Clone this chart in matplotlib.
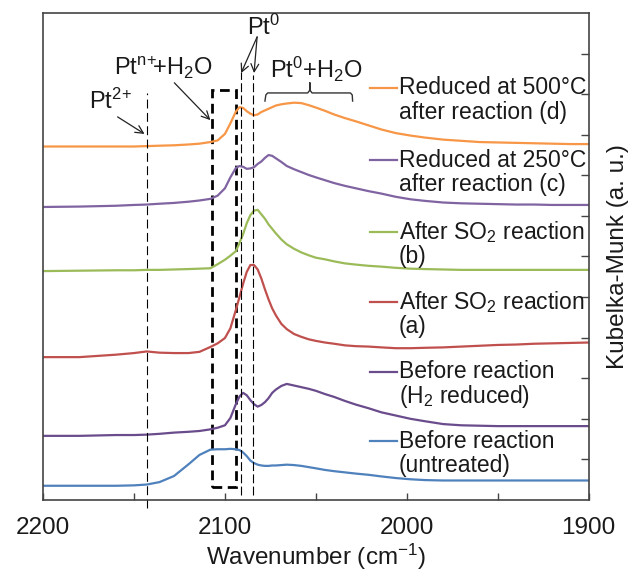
import matplotlib
matplotlib.use("Agg")
import matplotlib.pyplot as plt
from matplotlib.patches import Rectangle

plt.rcParams["font.family"] = ["Liberation Sans", "DejaVu Sans"]
plt.rcParams["mathtext.fontset"] = "custom"
plt.rcParams["mathtext.rm"] = "Liberation Sans"
plt.rcParams["mathtext.it"] = "Liberation Sans:italic"
plt.rcParams["mathtext.bf"] = "Liberation Sans:bold"

# wavenumber grid (cm-1) shared by all spectra
wavenumber = [2200, 2180, 2160, 2150, 2143, 2136, 2128, 2120, 2114, 2108,
              2104, 2100, 2097, 2094, 2092, 2090, 2088, 2086, 2084, 2082,
              2080, 2078, 2076, 2074, 2072, 2069, 2066, 2062, 2058, 2054,
              2050, 2045, 2040, 2034, 2028, 2021, 2014, 2006, 1998, 1990,
              1980, 1970, 1960, 1950, 1940, 1930, 1920, 1910, 1900]

# stacked Kubelka-Munk spectra (offset for display)
km_untreated = [0.35, 0.35, 0.35, 0.36, 0.38, 0.44, 0.59, 0.88, 1.11, 1.24,
                1.25, 1.25, 1.26, 1.25, 1.23, 1.17, 1.08, 0.97, 0.91, 0.87,
                0.85, 0.84, 0.84, 0.85, 0.85, 0.86, 0.87, 0.86, 0.84, 0.81,
                0.78, 0.74, 0.71, 0.68, 0.65, 0.62, 0.58, 0.54, 0.51, 0.49,
                0.48, 0.48, 0.48, 0.48, 0.48, 0.48, 0.48, 0.48, 0.48]

km_h2_reduced = [1.58, 1.58, 1.60, 1.60, 1.61, 1.63, 1.66, 1.68, 1.70, 1.74,
                 1.78, 1.84, 2.02, 2.36, 2.55, 2.64, 2.58, 2.46, 2.36, 2.30,
                 2.34, 2.41, 2.51, 2.64, 2.72, 2.81, 2.86, 2.82, 2.78, 2.74,
                 2.69, 2.61, 2.54, 2.44, 2.35, 2.26, 2.16, 2.08, 2.00, 1.94,
                 1.87, 1.84, 1.83, 1.82, 1.82, 1.82, 1.82, 1.82, 1.82]

km_so2_a = [3.52, 3.52, 3.58, 3.62, 3.66, 3.63, 3.62, 3.62, 3.65, 3.77,
            3.86, 3.99, 4.23, 4.68, 5.00, 5.33, 5.62, 5.79, 5.79, 5.68,
            5.46, 5.19, 4.94, 4.72, 4.55, 4.34, 4.21, 4.09, 4.02, 3.96,
            3.92, 3.88, 3.85, 3.81, 3.79, 3.78, 3.76, 3.74, 3.74, 3.75,
            3.76, 3.78, 3.80, 3.82, 3.83, 3.85, 3.86, 3.87, 3.88]

km_so2_b = [5.64, 5.65, 5.66, 5.66, 5.67, 5.67, 5.68, 5.69, 5.70, 5.71,
            5.81, 5.92, 6.02, 6.13, 6.33, 6.55, 6.82, 7.02, 7.13, 7.15,
            7.04, 6.93, 6.79, 6.68, 6.57, 6.42, 6.30, 6.19, 6.10, 6.03,
            5.97, 5.93, 5.88, 5.83, 5.80, 5.77, 5.75, 5.72, 5.70, 5.69,
            5.68, 5.67, 5.67, 5.67, 5.67, 5.67, 5.67, 5.67, 5.67]

km_red250_c = [7.22, 7.23, 7.25, 7.27, 7.28, 7.30, 7.32, 7.35, 7.38, 7.42,
               7.50, 7.68, 7.95, 8.18, 8.23, 8.21, 8.16, 8.17, 8.20, 8.28,
               8.34, 8.43, 8.50, 8.48, 8.42, 8.33, 8.23, 8.15, 8.08, 8.01,
               7.95, 7.88, 7.81, 7.74, 7.68, 7.61, 7.55, 7.47, 7.41, 7.37,
               7.33, 7.31, 7.30, 7.29, 7.28, 7.28, 7.27, 7.27, 7.27]

km_red500_d = [8.71, 8.71, 8.71, 8.71, 8.72, 8.73, 8.74, 8.76, 8.78, 8.82,
               8.86, 9.02, 9.28, 9.57, 9.68, 9.66, 9.58, 9.52, 9.48, 9.50,
               9.56, 9.60, 9.64, 9.68, 9.72, 9.75, 9.77, 9.79, 9.78, 9.73,
               9.67, 9.59, 9.50, 9.41, 9.33, 9.23, 9.13, 9.04, 8.98, 8.93,
               8.88, 8.85, 8.82, 8.81, 8.80, 8.79, 8.78, 8.77, 8.77]

series = [
    (km_red500_d, "#F79646", ["Reduced at 500°C", "after reaction (d)"]),
    (km_red250_c, "#8064A2", ["Reduced at 250°C", "after reaction (c)"]),
    (km_so2_b, "#9BBB59", ["After SO$_2$ reaction", "(b)"]),
    (km_so2_a, "#C0504D", ["After SO$_2$ reaction", "(a)"]),
    (km_h2_reduced, "#6A4C8C", ["Before reaction", "(H$_2$ reduced)"]),
    (km_untreated, "#4F81BD", ["Before reaction", "(untreated)"]),
]
# label anchor (axes fraction) for the first line of each entry
label_y = [0.846, 0.698, 0.551, 0.407, 0.263, 0.121]

fig = plt.figure(figsize=(6.33, 5.78), dpi=100)
ax = fig.add_axes([0.068, 0.135, 0.862, 0.8425])

txt = "#1a1a1a"
for (vals, col, lab), ly in zip(series, label_y):
    ax.plot(wavenumber, vals, color=col, lw=1.6, solid_capstyle="round")
    ax.plot([0.599, 0.648], [ly, ly], color=col, lw=1.6,
            transform=ax.transAxes)
    ax.text(0.652, ly, lab[0], transform=ax.transAxes, fontsize=16.5,
            color=txt, va="center", ha="left")
    ax.text(0.652, ly - 0.051, lab[1], transform=ax.transAxes,
            fontsize=16.5, color=txt, va="center", ha="left")

ax.set_xlim(2200, 1900)
ax.set_ylim(0, 12)

# band markers
ax.plot([2143, 2143], [-0.2, 10.03], color="k", lw=0.8,
        linestyle=(0, (8, 4)), clip_on=False)
ax.plot([2091, 2091], [0.12, 10.55], color="k", lw=0.8,
        linestyle=(0, (8, 3)))
ax.plot([2084.5, 2084.5], [0.12, 10.47], color="k", lw=0.8,
        linestyle=(0, (8, 3)))
ax.add_patch(Rectangle((2107, 0.32), -13, 9.78, fill=False, ec="k",
                       lw=2.0, linestyle=(0, (3.5, 2))))

# bracket over the broad band
ax.plot([2078, 2077.5, 2076.5, 2054.5, 2053.3, 2053.3, 2053.3, 2052.1,
         2031, 2030, 2029.8],
        [9.83, 9.98, 10.03, 10.03, 10.1, 10.28, 10.1, 10.03, 10.03, 9.98, 9.83],
        color="#333333", lw=1.0)

ann = dict(fontsize=17, color=txt, ha="center", va="center")
arrow = dict(arrowstyle="->", color="#222222", lw=0.9,
             shrinkA=0, shrinkB=0, mutation_scale=14)
ax.text(2162.8, 9.83, r"Pt$^{2\!+}$", **ann)
ax.annotate("", xy=(2144.2, 9.02), xytext=(2159, 9.44), arrowprops=arrow)
ax.text(2134, 10.65, r"Pt$^{\mathrm{n}\!+}\!\!$+H$_2$O", **ann)
ax.annotate("", xy=(2108, 9.36), xytext=(2127.8, 10.28), arrowprops=arrow)
ax.text(2078.8, 11.66, r"Pt$^0$", **ann)
ax.annotate("", xy=(2091.1, 10.52), xytext=(2082.3, 11.41), arrowprops=arrow)
ax.annotate("", xy=(2084.0, 10.52), xytext=(2082.3, 11.41), arrowprops=arrow)
ax.text(2049.8, 10.62, r"Pt$^0$+H$_2$O", **ann)

ax.set_xticks([2200, 2100, 2000, 1900])
ax.set_xticklabels(["2200", "2100", "2000", "1900"])
ax.set_xticks([2150, 2050, 1950], minor=True)
ax.set_yticks(range(1, 12))
ax.tick_params(axis="x", which="both", direction="in", length=5,
               width=1.0, color="#444444", labelsize=17.5, pad=12,
               labelcolor=txt)
ax.tick_params(axis="y", which="both", direction="in", length=6,
               width=1.0, color="#444444", left=False, right=True,
               labelleft=False, labelright=False)
for sp in ax.spines.values():
    sp.set_color("#444444")
    sp.set_linewidth(1.2)

ax.set_xlabel("Wavenumber (cm$^{-1}$)", fontsize=17.5, color=txt,
              labelpad=2)
ax.yaxis.set_label_position("right")
ax.set_ylabel("Kubelka-Munk (a. u.)", fontsize=17.5, color=txt,
              labelpad=13)

fig.savefig("out.png", dpi=100)
